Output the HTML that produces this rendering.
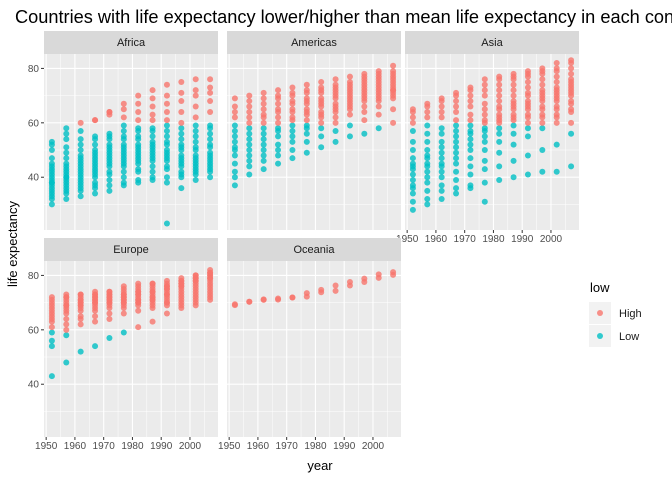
<!DOCTYPE html>
<html><head><meta charset="utf-8"><style>
body{margin:0;background:#fff}
svg{display:block;font-family:"Liberation Sans",sans-serif}
</style></head><body>
<svg id="c" width="672" height="480" xmlns="http://www.w3.org/2000/svg">
<text x="15" y="23" font-size="18.2" fill="#000">Countries with life expectancy lower/higher than mean life expectancy in each continent</text>
<text transform="translate(17,244) rotate(-90)" text-anchor="middle" font-size="13">life expectancy</text>
<text x="320" y="470" text-anchor="middle" font-size="13">year</text>
<g>
<text x="590" y="292" font-size="13">low</text>
<rect x="589" y="302" width="22" height="22" fill="#F2F2F2"/>
<circle cx="600" cy="313" r="3" fill="#F8766D" fill-opacity="0.8"/>
<text x="619" y="317" font-size="11" fill="#1a1a1a">High</text>
<rect x="589" y="325" width="22" height="22" fill="#F2F2F2"/>
<circle cx="600" cy="336" r="3" fill="#00BFC4" fill-opacity="0.8"/>
<text x="619" y="340" font-size="11" fill="#1a1a1a">Low</text>
</g>
</svg>
<script>
const years=[1952,1957,1962,1967,1972,1977,1982,1987,1992,1997,2002,2007];
const threshold=59.47;
const yTicks=[40,60,80];
const xTicks=[1950,1960,1970,1980,1990,2000];
const africa=[
[30,32,33,34,35,36,37,38,38,39,40,41,42,43,44,45,47,50,52,53],
[32,34,35,36,37,38,39,40,40,41,42,43,44,45,47,49,51,54,56,58],
[33,35,36,37,38,39,40,41,42,43,44,45,46,47,48,50,52,54,57,60],
[34,36,37,38,40,41,42,43,44,45,46,47,48,49,50,52,54,55,61,61],
[35,37,39,41,42,44,45,46,47,48,49,50,51,52,54,55,56,63,64,64],
[37,38,40,42,44,45,46,47,48,49,50,51,52,54,55,57,59,62,65,67],
[38,39,42,43,45,46,47,48,49,50,51,52,54,55,57,58,61,64,67,70],
[39,40,42,44,46,47,48,49,50,51,52,53,55,57,58,61,63,66,69,72],
[23,38,40,43,44,46,47,48,49,50,52,53,55,57,59,61,64,67,70,74],
[36,40,41,42,44,45,46,47,48,50,51,52,54,56,58,60,64,68,71,75],
[39,41,42,43,44,45,46,47,48,50,51,53,55,57,59,62,66,70,72,76],
[40,42,43,44,45,46,47,48,49,51,52,54,56,58,59,64,68,71,73,76]];
const americas=[
[37,40,42,45,48,50,51,53,55,57,59,62,64,66,69],
[41,44,46,48,50,52,54,56,58,60,62,64,66,68,70],
[43,46,48,50,52,54,56,58,60,62,63,65,67,69,71],
[45,48,50,52,55,57,58,60,62,64,65,67,69,70,72],
[47,50,53,55,57,59,61,62,64,65,67,68,70,71,73],
[49,53,56,58,59,61,63,64,65,67,68,69,71,72,74],
[51,55,58,60,62,63,64,66,67,68,69,71,72,73,75],
[53,57,60,62,64,65,66,67,69,70,71,72,73,74,76],
[55,59,63,65,66,67,68,69,70,71,72,73,74,75,77],
[56,61,64,66,68,69,70,71,72,73,74,75,76,77,78],
[58,63,66,68,69,70,71,72,73,74,75,76,77,78,79],
[60,65,69,70,71,72,72,73,74,75,76,77,78,79,81]];
const asia=[
[28,31,34,36,37,39,41,43,44,45,47,50,53,57,60,62,64,65],
[30,32,35,38,40,42,44,45,47,48,50,53,56,59,62,64,66,67],
[32,35,37,40,42,44,45,47,49,51,53,56,58,62,64,66,68,69],
[34,36,39,42,45,47,49,51,53,55,57,59,61,64,66,68,70,71],
[36,37,41,44,47,50,52,54,56,57,59,61,63,66,68,70,72,73],
[31,38,43,46,50,53,55,57,58,60,61,63,65,67,70,72,74,76],
[39,44,49,53,56,58,60,61,62,63,65,66,68,70,72,74,76,77],
[40,46,52,56,59,61,62,63,65,66,67,68,70,72,74,76,77,78],
[41,48,55,58,60,62,63,65,66,67,68,70,71,73,75,77,78,79],
[42,50,58,60,62,63,65,66,68,69,70,71,72,74,76,78,79,80],
[42,52,60,62,63,65,66,68,69,70,71,72,73,75,77,79,80,82],
[44,56,60,64,65,67,68,70,71,72,73,74,75,76,78,80,82,83]];
const europe=[
[43,54,56,59,61,63,64,65,66,67,68,69,70,71,72],
[48,58,60,62,64,66,67,68,69,69,70,71,72,72,73],
[52,62,64,65,67,68,69,69,70,70,71,71,72,73,73],
[54,63,65,67,68,69,70,70,71,71,72,72,73,73,74],
[57,64,66,68,69,70,70,71,71,72,72,73,73,74,74],
[59,66,68,69,70,70,71,71,72,72,73,73,74,75,76],
[61,67,69,70,70,71,71,72,73,73,74,74,75,76,77],
[63,68,69,70,71,71,72,72,73,74,74,75,76,77,77],
[66,69,70,70,71,72,73,73,74,75,75,76,76,77,78],
[68,69,70,71,72,73,74,75,76,76,77,77,78,78,79],
[69,70,71,72,73,74,75,76,77,78,78,79,79,80,80],
[71,72,73,74,75,76,77,78,79,79,80,80,81,81,82]];
const oceania=[[69.1,69.4],[70.3,70.3],[71,71.2],[71.1,71.5],[71.9,71.9],[73.5,72.2],[74.7,73.8],[76.3,74.3],[77.6,76.3],[78.8,77.6],[80.4,79.1],[81.2,80.2]];
const continents=["Africa","Americas","Asia","Europe","Oceania"];
const series=[africa,americas,asia,europe,oceania];

const NS="http://www.w3.org/2000/svg";
const svg=document.getElementById('c');
const W=174,PH=176;
const lefts=[44,227,405,44,227];
const tops=[54,54,54,261,261];
const xLabels=[false,false,true,true,true];
function mk(t,a,p){const e=document.createElementNS(NS,t);for(const k in a)e.setAttribute(k,a[k]);(p||svg).appendChild(e);return e;}
function xs(l,y){return l+(y-1949.25)*W/60.5;}
function ys(t,v){return t+(85.3-v)*PH/64.7;}
continents.forEach((name,i)=>{
  const l=lefts[i],t=tops[i];
  const g=mk('g',{});
  
  
  const strip=mk('rect',{x:l,y:t-23,width:W,height:23,fill:'#D9D9D9'},g);
  
  
  const st=mk('text',{x:l+W/2,y:t-8,'text-anchor':'middle','font-size':'11',fill:'#1a1a1a'},g);
  st.textContent=name;
  
  
  const bg=mk('rect',{x:l,y:t,width:W,height:PH,fill:'#EBEBEB'},g);
  
  
  [30,50,70].forEach(v=>{const e=mk('line',{x1:l,x2:l+W,y1:ys(t,v),y2:ys(t,v),stroke:'#fff','stroke-width':0.5},g);});
  [1955,1965,1975,1985,1995,2005].forEach(v=>{const e=mk('line',{x1:xs(l,v),x2:xs(l,v),y1:t,y2:t+PH,stroke:'#fff','stroke-width':0.5},g);});
  yTicks.forEach(v=>{const e=mk('line',{x1:l,x2:l+W,y1:ys(t,v),y2:ys(t,v),stroke:'#fff','stroke-width':1.1},g);});
  xTicks.forEach(v=>{const e=mk('line',{x1:xs(l,v),x2:xs(l,v),y1:t,y2:t+PH,stroke:'#fff','stroke-width':1.1},g);});
  if(l===44){yTicks.forEach(v=>{
    const tk=mk('line',{x1:l-3,x2:l,y1:ys(t,v),y2:ys(t,v),stroke:'#333'},g);
    
    const tx=mk('text',{x:l-5,y:ys(t,v)+3.5,'text-anchor':'end','font-size':'10',fill:'#4d4d4d'},g);
    tx.textContent=v;});}
  if(xLabels[i]){xTicks.forEach(v=>{
    const tk=mk('line',{x1:xs(l,v),x2:xs(l,v),y1:t+PH,y2:t+PH+3,stroke:'#333'},g);
    
    const tx=mk('text',{x:xs(l,v),y:t+PH+12,'text-anchor':'middle','font-size':'10',fill:'#4d4d4d'},g);
    tx.textContent=v;});}
  series[i].forEach((vals,yi)=>{vals.forEach(v=>{
    const c=mk('circle',{cx:xs(l,years[yi]),cy:ys(t,v),r:3,fill:v>=threshold?'#F8766D':'#00BFC4','fill-opacity':0.8},g);
    
    
  });});
});
</script>
</body></html>
